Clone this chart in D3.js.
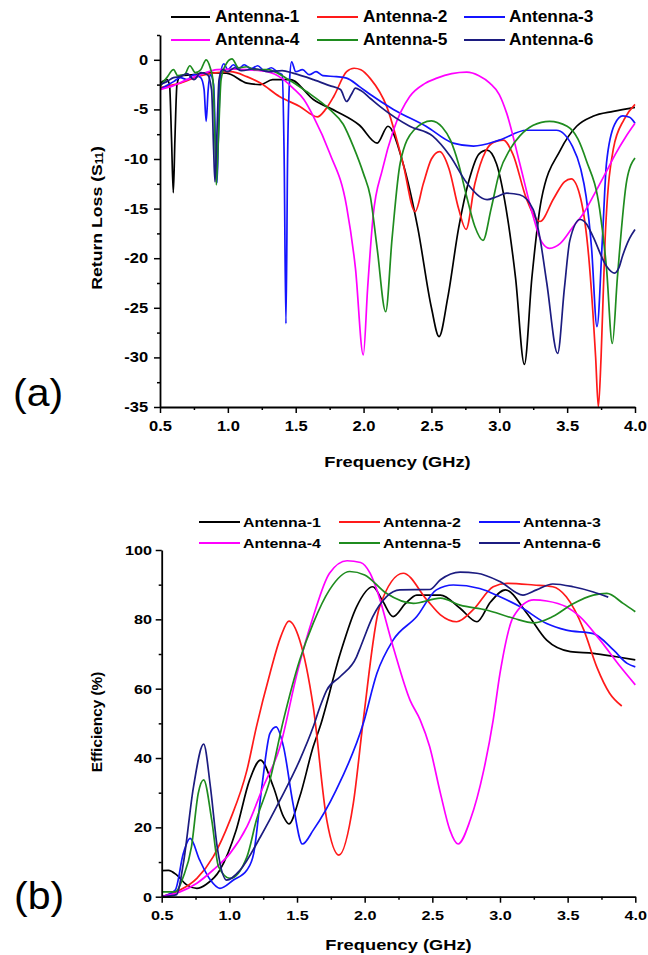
<!DOCTYPE html>
<html><head><meta charset="utf-8">
<script src="https://cdn.jsdelivr.net/npm/d3@7"></script>
<style>
html,body{margin:0;padding:0;background:#fff;}
svg{display:block;}
text{font-family:"Liberation Sans",Arial,sans-serif;}
</style></head>
<body>
<script>
// ---------------- DATA ----------------
const seriesNames = ["Antenna-1","Antenna-2","Antenna-3","Antenna-4","Antenna-5","Antenna-6"];
const seriesColors = ["#000000","#ff1a1a","#1414ff","#ff00ff","#1f8c1f","#1c1c80"];

const xTicks = [0.5,1.0,1.5,2.0,2.5,3.0,3.5,4.0];
const s11Ticks = [0,-5,-10,-15,-20,-25,-30,-35];
const effTicks = [0,20,40,60,80,100];

// Return loss (S11, dB) — [frequency GHz, value]
const s11Ant1 = [[0.5,-2.4],[0.55,-2.0],[0.57,-2.5],[0.585,-8],[0.598,-13.4],[0.61,-8],[0.625,-2.5],[0.65,-1.6],[0.75,-1.5],[0.85,-1.3],[0.99,-1.35],[1.14,-2.35],[1.24,-2.5],[1.33,-2.0],[1.46,-2.0],[1.63,-4.0],[1.8,-5.2],[1.97,-6.6],[2.10,-8.4],[2.18,-6.7],[2.29,-10.4],[2.4,-17],[2.5,-25],[2.556,-27.9],[2.62,-24],[2.7,-17],[2.78,-12],[2.85,-9.5],[2.91,-9.1],[2.98,-10.5],[3.05,-15],[3.12,-22],[3.185,-30.7],[3.24,-22],[3.31,-14.1],[3.45,-9.1],[3.57,-6.7],[3.69,-5.7],[3.84,-5.2],[4.0,-4.8]];
const s11Ant2 = [[0.5,-2.8],[0.65,-2.35],[0.8,-1.6],[0.89,-1.35],[1.02,-1.2],[1.14,-1.7],[1.24,-2.35],[1.38,-3.7],[1.53,-4.7],[1.66,-5.75],[1.72,-5.0],[1.78,-3.7],[1.875,-1.2],[1.93,-0.85],[1.98,-1.0],[2.05,-1.9],[2.17,-4.7],[2.29,-10.4],[2.38,-15.3],[2.44,-12.5],[2.5,-10],[2.56,-9.25],[2.63,-11],[2.7,-15],[2.755,-17.1],[2.82,-12.5],[2.9,-9.2],[2.96,-8.3],[3.03,-8.1],[3.1,-9.5],[3.2,-14],[3.30,-16.3],[3.4,-14],[3.48,-12.3],[3.53,-12.0],[3.6,-14],[3.66,-20],[3.71,-30],[3.73,-35],[3.75,-30],[3.78,-18],[3.84,-9],[3.92,-6],[4.0,-4.5]];
const s11Ant3 = [[0.5,-3.0],[0.55,-2.6],[0.6,-2.2],[0.65,-1.8],[0.7,-2.0],[0.75,-1.5],[0.8,-1.8],[0.825,-3],[0.84,-6.2],[0.855,-3],[0.87,-1.5],[0.895,-2.5],[0.91,-9],[0.92,-12.4],[0.93,-8],[0.945,-1.5],[0.97,-0.4],[1.0,-1.0],[1.04,-0.5],[1.08,-0.9],[1.12,-0.5],[1.17,-0.9],[1.22,-0.6],[1.27,-1.1],[1.32,-0.8],[1.37,-1.3],[1.40,-1.5],[1.415,-10],[1.428,-26.6],[1.44,-10],[1.455,-2],[1.47,-0.2],[1.5,-1.2],[1.55,-1.0],[1.6,-1.5],[1.65,-1.2],[1.7,-1.6],[1.8,-1.7],[1.875,-1.85],[1.97,-2.7],[2.05,-3.5],[2.22,-5.0],[2.46,-6.7],[2.66,-8.4],[2.81,-8.7],[3.0,-8.1],[3.20,-7.1],[3.42,-7.1],[3.54,-8.75],[3.6,-11],[3.64,-13.8],[3.68,-19],[3.72,-26.9],[3.76,-18],[3.79,-10.4],[3.85,-6.5],[3.91,-5.65],[3.96,-5.8],[4.0,-6.4]];
const s11Ant4 = [[0.5,-3.0],[0.6,-2.6],[0.7,-2.0],[0.8,-1.5],[0.92,-1.0],[1.05,-0.95],[1.14,-1.0],[1.29,-1.2],[1.4,-1.9],[1.48,-2.85],[1.56,-4.0],[1.63,-5.7],[1.75,-9.4],[1.875,-14.8],[1.94,-21],[1.998,-29.75],[2.03,-23],[2.07,-15.8],[2.14,-11],[2.22,-7.1],[2.34,-3.7],[2.45,-2.4],[2.54,-1.85],[2.65,-1.4],[2.76,-1.25],[2.85,-1.6],[2.93,-2.35],[3.0,-3.5],[3.055,-5.4],[3.15,-10.4],[3.25,-15.8],[3.31,-18.3],[3.37,-19.0],[3.45,-18.5],[3.545,-16.8],[3.62,-15.5],[3.69,-13.8],[3.78,-11.5],[3.86,-9.4],[3.93,-7.8],[4.0,-6.4]];
const s11Ant5 = [[0.5,-2.7],[0.55,-1.8],[0.6,-1.0],[0.63,-1.6],[0.68,-1.5],[0.72,-0.6],[0.76,-1.3],[0.8,-1.0],[0.84,0],[0.87,-0.8],[0.89,-2],[0.905,-8],[0.915,-12.6],[0.93,-8],[0.95,-2],[0.98,-0.6],[1.03,0.1],[1.08,-0.8],[1.14,-0.7],[1.2,-1.0],[1.29,-1.0],[1.43,-1.85],[1.58,-3.2],[1.75,-5.0],[1.85,-6.5],[1.925,-8.75],[2.0,-11.5],[2.05,-13.8],[2.1,-19],[2.163,-25.4],[2.21,-18],[2.27,-10.4],[2.37,-7.1],[2.5,-6.15],[2.58,-6.8],[2.64,-8.1],[2.7,-10.5],[2.76,-13.8],[2.82,-16.8],[2.88,-18.2],[2.94,-15],[3.0,-11.4],[3.08,-9],[3.15,-7.7],[3.25,-6.6],[3.37,-6.2],[3.50,-6.7],[3.58,-8],[3.64,-10.1],[3.74,-15.1],[3.79,-21],[3.833,-28.6],[3.87,-22],[3.94,-12.1],[4.0,-9.9]];
const s11Ant6 = [[0.5,-2.5],[0.55,-2.2],[0.6,-1.8],[0.65,-1.7],[0.7,-1.4],[0.75,-2.0],[0.8,-1.3],[0.85,-1.5],[0.88,-3],[0.895,-9],[0.905,-12.3],[0.918,-8],[0.935,-2],[0.96,-1.0],[1.0,-1.2],[1.05,-0.8],[1.1,-1.1],[1.2,-0.9],[1.3,-1.2],[1.4,-1.1],[1.48,-1.35],[1.63,-2.0],[1.75,-2.6],[1.83,-3.0],[1.875,-4.2],[1.91,-3.5],[1.94,-2.85],[1.98,-3.1],[2.05,-3.9],[2.12,-4.7],[2.34,-6.7],[2.51,-7.7],[2.64,-9.75],[2.76,-12.4],[2.91,-14.1],[2.98,-13.8],[3.055,-13.45],[3.15,-13.6],[3.25,-15.1],[3.3,-18],[3.35,-22.5],[3.43,-29.6],[3.48,-23],[3.52,-18.2],[3.595,-16.1],[3.64,-16.5],[3.69,-17.8],[3.79,-20.8],[3.85,-21.5],[3.88,-21],[3.91,-19.7],[3.96,-18],[4.0,-17.1]];

// Efficiency (%) — [frequency GHz, value]
const effAnt1 = [[0.5,7.5],[0.55,7.6],[0.61,6.3],[0.685,3.4],[0.76,2.4],[0.83,3.6],[0.93,7.7],[1.05,19.2],[1.15,33.7],[1.23,39.4],[1.325,31.7],[1.40,23.1],[1.44,21.0],[1.52,28.8],[1.62,43.3],[1.67,49],[1.82,70.2],[1.94,83.6],[2.06,89.4],[2.13,85.5],[2.21,80.8],[2.3,84.5],[2.385,87.0],[2.56,87.0],[2.705,83.2],[2.83,79.3],[2.93,85],[3.04,88.5],[3.2,81.7],[3.345,74.0],[3.52,70.7],[3.69,70.2],[3.86,69.2],[4.0,68.3]];
const effAnt2 = [[0.5,0],[0.635,1.9],[0.76,5.3],[0.88,11.5],[1.005,22.1],[1.13,36.5],[1.20,49],[1.30,64.4],[1.38,75],[1.44,79.5],[1.52,74],[1.62,54.8],[1.72,22.1],[1.81,12.0],[1.916,26.9],[1.99,51],[2.11,83.6],[2.285,93.3],[2.46,85.6],[2.56,81.3],[2.68,79.3],[2.80,82.7],[2.95,89.4],[3.05,90.4],[3.25,89.9],[3.39,89.4],[3.49,86.5],[3.62,76.9],[3.715,66.3],[3.81,58.7],[3.90,55.0]];
const effAnt3 = [[0.5,0],[0.6,1.9],[0.66,12.5],[0.71,16.8],[0.78,10.6],[0.86,4.8],[0.93,2.4],[1.03,4.8],[1.13,7.7],[1.18,12.5],[1.24,31.7],[1.30,47.1],[1.345,49],[1.40,43.3],[1.47,26.9],[1.54,15.2],[1.62,19.2],[1.79,30.8],[1.99,50],[2.09,64.4],[2.21,74],[2.385,80.8],[2.53,88.5],[2.655,89.9],[2.85,88.9],[3.0,86.5],[3.15,83.6],[3.345,78.8],[3.49,76.9],[3.69,75.9],[3.84,71.1],[3.94,67.3],[4.0,66.3]];
const effAnt4 = [[0.5,0],[0.635,1.4],[0.76,3.9],[0.88,7.7],[1.005,12.5],[1.13,20.2],[1.25,31.7],[1.375,43.3],[1.50,64.4],[1.62,80.8],[1.74,93.3],[1.87,96.9],[1.97,96.4],[2.04,93.3],[2.09,88.5],[2.21,72.1],[2.335,56.7],[2.41,51],[2.48,43.3],[2.56,29.8],[2.63,19.2],[2.69,15.2],[2.78,22.1],[2.88,36.5],[2.95,51],[3.0,64.4],[3.10,80.8],[3.25,85.6],[3.345,85.3],[3.49,83.6],[3.59,80.8],[3.74,74],[3.89,66.3],[4.0,61.1]];
const effAnt5 = [[0.5,1.4],[0.6,1.4],[0.66,5.8],[0.72,14.4],[0.77,29.8],[0.81,33.7],[0.87,22.1],[0.92,8.7],[1.005,5.3],[1.13,11.5],[1.20,22.1],[1.30,33.7],[1.40,51],[1.52,68.3],[1.62,78.9],[1.74,88.5],[1.89,93.8],[2.0,92.8],[2.16,87.5],[2.36,84.6],[2.56,86.1],[2.705,84.1],[2.90,82.7],[3.10,80.3],[3.25,79.0],[3.39,80.8],[3.54,84.5],[3.69,87.0],[3.79,87.5],[3.91,84.6],[4.0,82.2]];
const effAnt6 = [[0.5,0],[0.61,0.6],[0.66,9.6],[0.735,31.7],[0.81,44],[0.86,31.7],[0.91,14.4],[0.98,4.8],[1.08,7.7],[1.23,17.3],[1.375,27.9],[1.52,39.4],[1.62,49],[1.67,54.8],[1.72,59.6],[1.82,63.5],[1.94,69.2],[1.97,72.1],[2.06,80.8],[2.16,86.5],[2.26,88.5],[2.48,88.6],[2.56,91.4],[2.705,93.6],[2.83,93.3],[3.0,90.9],[3.17,87.0],[3.27,88.5],[3.39,90.2],[3.54,89.4],[3.69,87.9],[3.80,86.4]];

const s11Series = [s11Ant1,s11Ant2,s11Ant3,s11Ant4,s11Ant5,s11Ant6];
const effSeries = [effAnt1,effAnt2,effAnt3,effAnt4,effAnt5,effAnt6];

// ---------------- DRAW ----------------
const W = 648, H = 955;
const svg = d3.select("body").append("svg").attr("width", W).attr("height", H);

function stext(parent, x, y, str, size, anchor, sx, opts) {
  opts = opts || {};
  return parent.append("text")
    .attr("transform", `translate(${x},${y}) scale(${sx},1)`)
    .attr("text-anchor", anchor)
    .attr("dominant-baseline", "central")
    .attr("font-size", size)
    .attr("font-weight", opts.weight || "bold")
    .attr("font-family", opts.family || null)
    .attr("fill", "#000")
    .text(str);
}

function panel(cfg) {
  const g = svg.append("g");
  const x = d3.scaleLinear().domain([0.5, 4.0]).range(cfg.xr);
  const y = d3.scaleLinear().domain(cfg.yd).range(cfg.yr);

  const clipId = "clip" + cfg.id;
  svg.append("defs").append("clipPath").attr("id", clipId)
    .append("rect").attr("x", cfg.xr[0]).attr("y", cfg.yr[1] - 2)
    .attr("width", cfg.xr[1] - cfg.xr[0] + 2).attr("height", cfg.yr[0] - cfg.yr[1] + 3);

  const line = d3.line().x(d => x(d[0])).y(d => y(d[1])).curve(d3.curveMonotoneX);
  const lg = g.append("g").attr("clip-path", `url(#${clipId})`);
  cfg.series.forEach((s, i) => {
    lg.append("path").datum(s).attr("d", line)
      .attr("fill", "none").attr("stroke", seriesColors[i])
      .attr("stroke-width", 1.7).attr("stroke-linejoin", "round");
  });

  // minor ticks
  const xMinor = d3.range(0.75, 4.0, 0.5);
  g.append("g").attr("transform", `translate(0,${cfg.yr[0]})`)
    .call(d3.axisBottom(x).tickValues(xMinor).tickSize(3).tickFormat(""))
    .call(a => a.select(".domain").remove())
    .selectAll("line").attr("stroke-width", 1.5);
  g.append("g").attr("transform", `translate(${cfg.xr[0]},0)`)
    .call(d3.axisLeft(y).tickValues(cfg.yMinor).tickSize(3).tickFormat(""))
    .call(a => a.select(".domain").remove())
    .selectAll("line").attr("stroke-width", 1.5);

  // major axes
  const xa = g.append("g").attr("transform", `translate(0,${cfg.yr[0]})`)
    .call(d3.axisBottom(x).tickValues(xTicks).tickSize(6).tickSizeOuter(0).tickFormat(d => d.toFixed(1)).tickPadding(5));
  xa.select(".domain").attr("stroke-width", 1.8);
  xa.selectAll(".tick line").attr("stroke-width", 1.5);
  xa.selectAll("text").attr("font-size", cfg.tickFont).attr("font-weight", "bold")
    .attr("font-family", '"Liberation Sans",Arial,sans-serif')
    .attr("transform", `scale(${cfg.sx},1)`).attr("dy", "0.9em");

  const ya = g.append("g").attr("transform", `translate(${cfg.xr[0]},0)`)
    .call(d3.axisLeft(y).tickValues(cfg.yTicks).tickSize(6).tickSizeOuter(0)
      .tickFormat(d => String(d)).tickPadding(cfg.yPad));
  ya.select(".domain").attr("stroke-width", 1.8);
  ya.selectAll(".tick line").attr("stroke-width", 1.5);
  ya.selectAll("text").attr("font-size", cfg.tickFont).attr("font-weight", "bold")
    .attr("font-family", '"Liberation Sans",Arial,sans-serif')
    .attr("transform", `scale(${cfg.sx},1)`);

  // x title
  stext(g, (cfg.xr[0] + cfg.xr[1]) / 2, cfg.xTitleY, "Frequency (GHz)", cfg.titleFont, "middle", cfg.titleSx);

  // legend
  const cols = cfg.legCols, rows = cfg.legRows;
  seriesNames.forEach((n, i) => {
    const c = i % 3, r = Math.floor(i / 3);
    g.append("line").attr("x1", cols[c][0]).attr("x2", cols[c][1])
      .attr("y1", rows[r]).attr("y2", rows[r])
      .attr("stroke", seriesColors[i]).attr("stroke-width", 1.8);
    stext(g, cols[c][2], rows[r], n, cfg.legFont, "start", cfg.legSx);
  });
  return g;
}

const gA = panel({
  id: "a", xr: [160, 635], yr: [407, 35], yd: [-35, 2.5],
  yTicks: s11Ticks, yMinor: [2.5,-2.5,-7.5,-12.5,-17.5,-22.5,-27.5,-32.5], yPad: 4,
  series: s11Series, tickFont: 14, sx: 1.18, titleFont: 15, titleSx: 1.22, xTitleY: 462,
  legCols: [[171,210,215],[317,358,363],[464,505,509]], legRows: [17, 40], legFont: 16, legSx: 1.08
});
// y title with subscript
const ytA = gA.append("text")
  .attr("transform", "translate(96,218) rotate(-90) scale(1.14,1)")
  .attr("text-anchor", "middle").attr("dominant-baseline", "central")
  .attr("font-size", 15.5).attr("font-weight", "bold");
ytA.append("tspan").text("Return Loss (S");
ytA.append("tspan").attr("font-size", 10).attr("dy", 3).text("11");
ytA.append("tspan").attr("dy", -3).text(")");

const gB = panel({
  id: "b", xr: [161.7, 635.3], yr: [896.7, 550], yd: [0, 100],
  yTicks: effTicks, yMinor: [10,30,50,70,90], yPad: 2,
  series: effSeries, tickFont: 13.5, sx: 1.2, titleFont: 15, titleSx: 1.22, xTitleY: 945,
  legCols: [[199,240,243],[339,380,383],[479,520,523]], legRows: [522, 543], legFont: 13.5, legSx: 1.18
});
gB.append("text")
  .attr("transform", "translate(97,722) rotate(-90) scale(1.06,1)")
  .attr("text-anchor", "middle").attr("dominant-baseline", "central")
  .attr("font-size", 14.5).attr("font-weight", "bold").text("Efficiency (%)");

// panel letters
const serif = '"Liberation Serif","Times New Roman",serif';
stext(svg, 13, 393, "(a)", 38, "start", 1.08, {weight: "normal", family: serif});
stext(svg, 14, 896, "(b)", 38, "start", 1.08, {weight: "normal", family: serif});
</script>
</body></html>
